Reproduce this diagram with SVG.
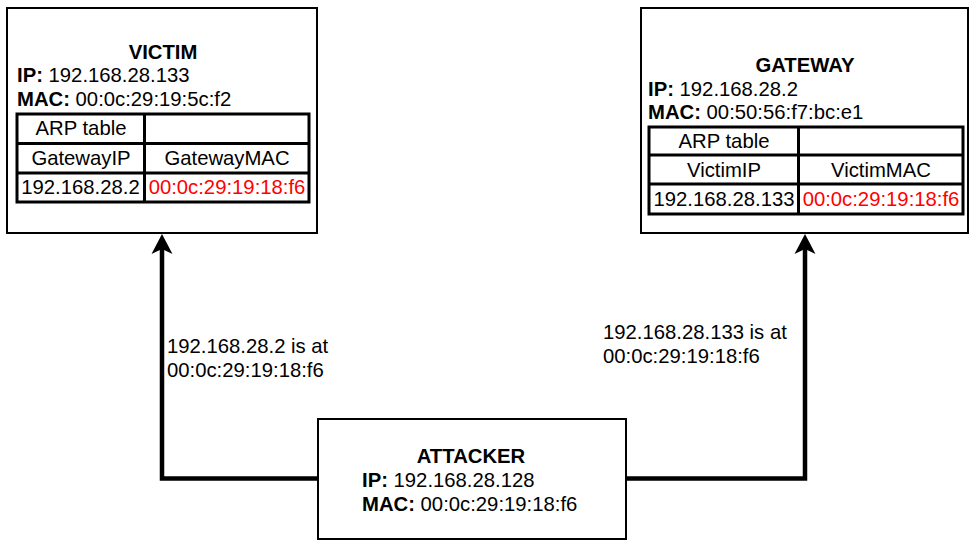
<svg xmlns="http://www.w3.org/2000/svg" width="980" height="545" viewBox="0 0 980 545">
<style>
text{font-family:"Liberation Sans",Arial,sans-serif;font-size:20.3px;fill:#000}
.b{font-weight:bold}
.c{text-anchor:middle}
.r{fill:#FF0000}
.box{fill:#fff;stroke:#000;stroke-width:2}
.tbl{fill:none;stroke:#000;stroke-width:3}
.edge{fill:none;stroke:#000;stroke-width:4.5;marker-end:url(#ah)}
</style>
<defs>
<marker id="ah" markerUnits="userSpaceOnUse" markerWidth="22" markerHeight="22" viewBox="-6 -11 22 22" refX="0" refY="0" orient="auto">
<path d="M15,0 L-5,10.5 L0,0 L-5,-10.5 Z" fill="#000"/>
</marker>
</defs>
<rect width="980" height="545" fill="#fff"/>
<g id="connectors">
<path class="edge" d="M318,478.5 L162,478.5 L162,249"/>
<path class="edge" d="M626,478.5 L805,478.5 L805,249"/>
<text x="167" y="353">192.168.28.2 is at</text>
<text x="167" y="377">00:0c:29:19:18:f6</text>
<text x="603" y="339">192.168.28.133 is at</text>
<text x="603" y="363">00:0c:29:19:18:f6</text>
</g>
<g id="victim">
<rect class="box" x="7" y="8" width="310" height="225"/>
<text class="b c" x="163" y="59">VICTIM</text>
<text x="17" y="82"><tspan class="b">IP:</tspan> 192.168.28.133</text>
<text x="17" y="106"><tspan class="b">MAC:</tspan> 00:0c:29:19:5c:f2</text>
<rect class="tbl" x="17" y="114" width="292" height="88"/>
<line class="tbl" x1="17" y1="143.5" x2="309" y2="143.5"/>
<line class="tbl" x1="17" y1="173" x2="309" y2="173"/>
<line class="tbl" x1="144.5" y1="114" x2="144.5" y2="202"/>
<text class="c" x="81" y="135">ARP table</text>
<text class="c" x="81" y="165">GatewayIP</text>
<text class="c" x="227" y="165">GatewayMAC</text>
<text class="c" x="80.5" y="194">192.168.28.2</text>
<text class="c r" x="227" y="194">00:0c:29:19:18:f6</text>
</g>
<g id="gateway">
<rect class="box" x="641" y="8" width="327" height="225"/>
<text class="b c" x="805" y="72">GATEWAY</text>
<text x="648" y="96"><tspan class="b">IP:</tspan> 192.168.28.2</text>
<text x="648" y="119"><tspan class="b">MAC:</tspan> 00:50:56:f7:bc:e1</text>
<rect class="tbl" x="649" y="127" width="314" height="87"/>
<line class="tbl" x1="649" y1="155" x2="963" y2="155"/>
<line class="tbl" x1="649" y1="184" x2="963" y2="184"/>
<line class="tbl" x1="798.5" y1="127" x2="798.5" y2="214"/>
<text class="c" x="724" y="148">ARP table</text>
<text class="c" x="724" y="177">VictimIP</text>
<text class="c" x="881" y="177">VictimMAC</text>
<text class="c" x="724" y="206">192.168.28.133</text>
<text class="c r" x="881" y="206">00:0c:29:19:18:f6</text>
</g>
<g id="attacker">
<rect class="box" x="318" y="419" width="308" height="120"/>
<text class="b c" x="471" y="463">ATTACKER</text>
<text x="362" y="487"><tspan class="b">IP:</tspan> 192.168.28.128</text>
<text x="362" y="511"><tspan class="b">MAC:</tspan> 00:0c:29:19:18:f6</text>
</g>
</svg>
